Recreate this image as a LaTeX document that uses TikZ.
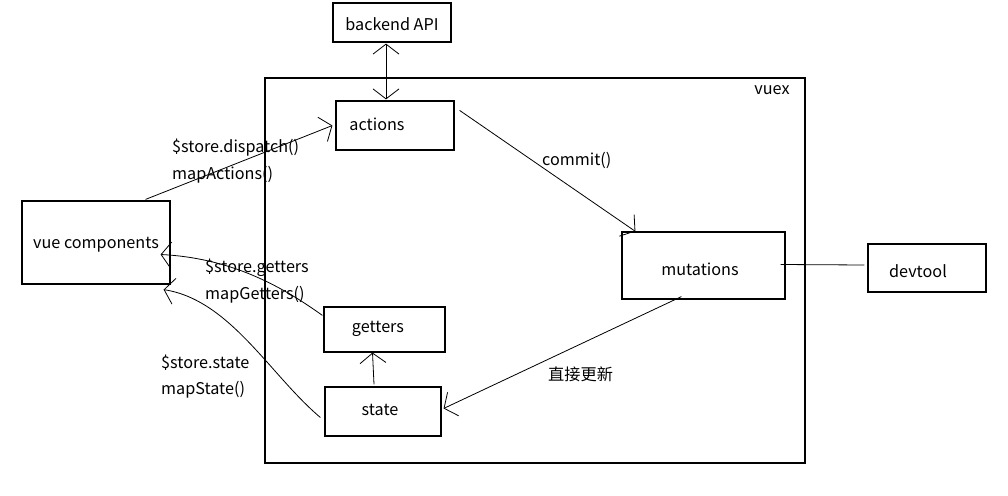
\documentclass[tikz,border=0pt]{standalone}
\usepackage{fontspec}
\setmainfont{Noto Sans CJK SC}
\usetikzlibrary{arrows.meta,calc}
\begin{document}
\begin{tikzpicture}[x=1pt,y=-1pt,
  box/.style={draw, line width=1.2pt, inner sep=0pt, anchor=center},
  txt/.style={font=\fontsize{16.2}{19}\selectfont, inner sep=0pt},
  lbl/.style={font=\fontsize{16.2}{19}\selectfont, inner sep=0pt, anchor=west},
  conn/.style={line width=0.8pt},
  arr/.style={conn, -{Straight Barb[length=10pt,width=26pt,line width=0.8pt]}},
  dblarr/.style={conn, {Straight Barb[length=10pt,width=26pt,line width=0.8pt]}-{Straight Barb[length=10pt,width=26pt,line width=0.8pt]}}]
\useasboundingbox[fill=white] (0,0) rectangle (1008,495);
% frame
\node[box, minimum width=540pt, minimum height=385pt] (vuexframe) at (535,270.5) {};
\node[txt] (vuexlbl) at (772,90) {vuex};
% boxes
\node[box, minimum width=118pt, minimum height=39pt] (backend) at (392,22.5) {};
\node[txt] (backendlbl) at (392,24) {backend API};
\node[box, minimum width=118pt, minimum height=49pt] (actions) at (395,125.5) {};
\node[txt] (actionslbl) at (377,124) {actions};
\node[box, minimum width=148pt, minimum height=83pt] (vue) at (96,242.5) {};
\node[txt] (vuelbl) at (96,245) {vue components};
\node[box, minimum width=121pt, minimum height=45pt] (getters) at (384.5,329.5) {};
\node[txt] (getterslbl) at (378,329) {getters};
\node[box, minimum width=116pt, minimum height=49pt] (state) at (383,411.5) {};
\node[txt] (statelbl) at (380,410) {state};
\node[box, minimum width=163pt, minimum height=67pt] (mutations) at (703.5,265.5) {};
\node[txt] (mutationslbl) at (700,269) {mutations};
\node[box, minimum width=118pt, minimum height=48pt] (devtool) at (927,268) {};
\node[txt] (devtoollbl) at (918,271) {devtool};
% labels
\node[lbl] (l1) at (172,148) {\$store.dispatch()};
\node[lbl] (l2) at (172,175) {mapActions()};
\node[lbl] (l3) at (542,160) {commit()};
\node[lbl] (l4) at (205,268) {\$store.getters};
\node[lbl] (l5) at (205,295) {mapGetters()};
\node[lbl] (l6) at (161,363) {\$store.state};
\node[lbl] (l7) at (161,390) {mapState()};
\node[lbl] (l8) at (548,374) {直接更新};
% connectors
\draw[arr] ($(vue.north east)+(-25,-1)$) -- ($(actions.west)+(-3,0)$);
\draw[dblarr] ($(backend.south)+(-6,1)$) -- ($(actions.north)+(-9,-1)$);
\draw[arr] ($(actions.north east)+(5,10)$) -- ($(mutations.north west)+(14,0)$);
\draw[conn] ($(mutations.east)+(-5,-1)$) -- ($(devtool.west)+(-3,-3)$);
\draw[arr] ($(mutations.south west)+(60,-3)$) -- ($(state.east)+(2,-3)$);
\draw[arr] ($(state.north)+(-9,-2)$) -- ($(getters.south)+(-12,0)$);
\draw[arr] ($(getters.north west)+(-1,9)$) .. controls (280,285) and (230,258) .. ($(vue.east)+(-10,12)$);
\draw[arr] ($(state.west)+(-4,6)$) .. controls (270,375) and (230,300) .. ($(vue.south east)+(-7,5)$);
\end{tikzpicture}
\end{document}
